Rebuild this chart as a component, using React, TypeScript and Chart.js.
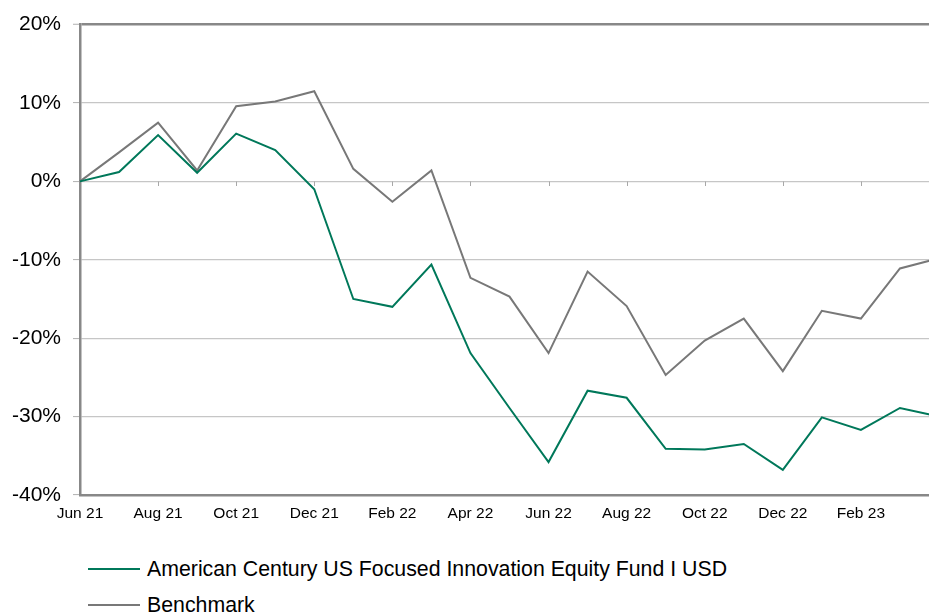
import React, { useEffect, useRef } from "react";
import { Chart, registerables } from "chart.js";

Chart.register(...registerables);

const months = [
  "Jun 21", "Jul 21", "Aug 21", "Sep 21", "Oct 21", "Nov 21", "Dec 21",
  "Jan 22", "Feb 22", "Mar 22", "Apr 22", "May 22", "Jun 22", "Jul 22",
  "Aug 22", "Sep 22", "Oct 22", "Nov 22", "Dec 22", "Jan 23", "Feb 23",
  "Mar 23", "Apr 23",
];

const fundLabel = "American Century US Focused Innovation Equity Fund I USD";
const benchmarkLabel = "Benchmark";

const fundValues = [
  0, 1.2, 5.9, 1.1, 6.1, 4.0, -1.0,
  -15.0, -16.0, -10.6, -21.9, -28.9, -35.8, -26.7,
  -27.6, -34.1, -34.2, -33.5, -36.8, -30.1, -31.7,
  -28.9, -30.0,
];

const benchmarkValues = [
  0, 3.7, 7.5, 1.4, 9.6, 10.2, 11.5,
  1.6, -2.6, 1.4, -12.3, -14.7, -21.9, -11.5,
  -15.9, -24.7, -20.3, -17.5, -24.2, -16.5, -17.5,
  -11.1, -9.8,
];

const yMin = -40;
const yMax = 20;
const yStep = 10;

const FUND_COLOR = "#00785a";
const BENCH_COLOR = "#787878";
const GRID_COLOR = "#c6c6c6";
const AXIS_COLOR = "#888888";
const FONT = "'Liberation Sans', Arial, sans-serif";

const zeroTicksPlugin = {
  id: "zeroTicks",
  beforeDatasetsDraw(chart: any) {
    const { ctx, scales } = chart;
    const x = scales.x;
    const y = scales.y;
    const y0 = Math.round(y.getPixelForValue(0)) + 0.5;
    ctx.save();
    ctx.strokeStyle = "#a8a8a8";
    ctx.lineWidth = 1;
    for (let i = 2; i < months.length; i += 2) {
      const px = Math.round(x.getPixelForValue(i)) + 0.5;
      ctx.beginPath();
      ctx.moveTo(px, y0);
      ctx.lineTo(px, y0 + 4.5);
      ctx.stroke();
    }
    ctx.restore();
  },
};

export default function App() {
  const canvasRef = useRef<HTMLCanvasElement | null>(null);

  useEffect(() => {
    if (!canvasRef.current) return;
    const chart = new Chart(canvasRef.current, {
      type: "line",
      data: {
        labels: months,
        datasets: [
          {
            label: fundLabel,
            data: fundValues,
            borderColor: FUND_COLOR,
            backgroundColor: FUND_COLOR,
            borderWidth: 2,
            pointRadius: 0,
            tension: 0,
            order: 1,
          },
          {
            label: benchmarkLabel,
            data: benchmarkValues,
            borderColor: BENCH_COLOR,
            backgroundColor: BENCH_COLOR,
            borderWidth: 2,
            pointRadius: 0,
            tension: 0,
            order: 2,
          },
        ],
      },
      options: {
        responsive: false,
        animation: false,
        events: [],
        layout: { padding: { top: 22, right: 21, left: 0, bottom: 0 } },
        plugins: {
          legend: { display: false },
          tooltip: { enabled: false },
        },
        scales: {
          x: {
            type: "category",
            offset: false,
            grid: { display: false, drawTicks: false },
            border: { display: true, color: AXIS_COLOR, width: 2.5 },
            ticks: {
              autoSkip: false,
              maxRotation: 0,
              padding: 9,
              color: "#000",
              font: { family: FONT, size: 15.5 },
              callback: (_v: any, i: number) =>
                i % 2 === 0 && i < months.length - 1 ? months[i] : "",
            },
            afterFit: (scale: any) => {
              scale.height = 35;
            },
          },
          y: {
            min: yMin,
            max: yMax,
            grid: {
              color: (ctx: any) =>
                ctx.tick && ctx.tick.value === yMax ? AXIS_COLOR : GRID_COLOR,
              lineWidth: (ctx: any) =>
                ctx.tick && ctx.tick.value === yMax ? 2.5 : 1.2,
              tickColor: "#b0b0b0",
              tickWidth: 1,
              tickLength: 7,
            },
            border: { display: true, color: AXIS_COLOR, width: 2.5 },
            ticks: {
              stepSize: yStep,
              padding: 12,
              color: "#000",
              font: { family: FONT, size: 21 },
              callback: (v: any) => `${v}%`,
            },
            afterFit: (scale: any) => {
              scale.width = 80;
            },
          },
        },
      },
      plugins: [zeroTicksPlugin],
    });
    return () => chart.destroy();
  }, []);

  const legendItems = [
    { label: fundLabel, color: FUND_COLOR, top: 558 },
    { label: benchmarkLabel, color: BENCH_COLOR, top: 594 },
  ];

  return (
    <div
      style={{
        position: "fixed",
        left: 0,
        top: 0,
        width: 929,
        height: 614,
        overflow: "hidden",
        background: "#fff",
      }}
    >
      <canvas
        ref={canvasRef}
        width={960}
        height={530}
        style={{ position: "absolute", left: 0, top: 0, width: 960, height: 530 }}
      />
      {legendItems.map((it) => (
        <div
          key={it.label}
          style={{
            position: "absolute",
            left: 88,
            top: it.top,
            height: 22,
            display: "flex",
            alignItems: "center",
            whiteSpace: "nowrap",
            fontFamily: FONT,
            fontSize: 21.3,
            color: "#000",
          }}
        >
          <span
            style={{
              display: "inline-block",
              width: 52,
              height: 2,
              background: it.color,
              marginRight: 7,
            }}
          />
          <span>{it.label}</span>
        </div>
      ))}
    </div>
  );
}
